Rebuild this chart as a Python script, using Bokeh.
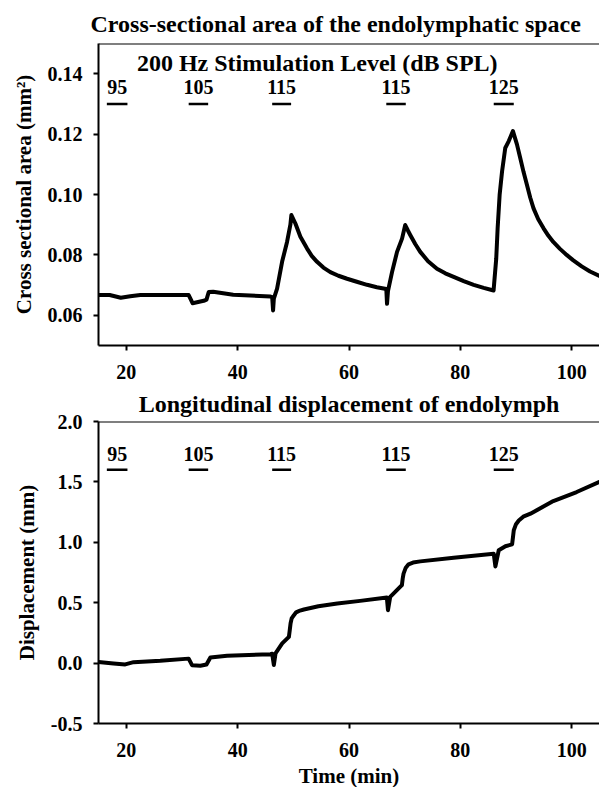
from bokeh.plotting import figure
from bokeh.layouts import column
from bokeh.models import FixedTicker, Span, Label, Range1d, ColumnDataSource
from bokeh.core.properties import value
from bokeh.embed import file_html
from bokeh.resources import INLINE

# ---------------- data ----------------
x_ticks = [20, 40, 60, 80, 100]
area_ticks = [0.06, 0.08, 0.10, 0.12, 0.14]
area_tick_labels = ["0.06", "0.08", "0.10", "0.12", "0.14"]
disp_ticks = [-0.5, 0.0, 0.5, 1.0, 1.5, 2.0]
disp_tick_labels = ["-0.5", "0.0", "0.5", "1.0", "1.5", "2.0"]

stim_levels = ["95", "105", "115", "115", "125"]
stim_start = [16.5, 31.2, 46.2, 66.7, 86.0]
stim_end = [20.2, 34.7, 49.6, 70.2, 89.6]

t_area = [15.0, 17.0, 19.0, 20.7, 22.5, 31.2, 31.6, 31.9, 33.9, 34.4, 34.8, 35.6, 39.2,
          45.9, 46.2, 46.36, 46.5, 47.08, 47.98, 48.87, 49.47, 49.65, 50.37, 51.27, 52.47,
          53.3, 54.26, 55.4, 56.65, 58.1, 59.65, 61.4, 63.24, 65.0, 66.7, 66.83, 67.0,
          67.73, 68.63, 69.53, 70.1, 70.6, 71.0, 71.9, 72.8, 74.2, 75.8, 77.3, 78.8, 80.6,
          82.4, 84.2, 85.97, 86.45, 86.7, 87.06, 87.5, 88.07, 88.7, 89.45, 90.17, 90.76,
          91.35, 91.96, 92.55, 93.15, 94.0, 94.95, 95.8, 96.7, 97.9, 99.1, 100.3, 101.8,
          103.3, 105.0]
v_area = [0.0667, 0.0667, 0.0658, 0.0663, 0.0667, 0.0667, 0.0652, 0.0640, 0.0648, 0.0652,
          0.0677, 0.0678, 0.0668, 0.0662, 0.0660, 0.0616, 0.0655, 0.0688, 0.0777, 0.0843,
          0.0900, 0.0932, 0.0904, 0.0860, 0.0821, 0.0797, 0.0777, 0.0758, 0.0743, 0.0731,
          0.0721, 0.0711, 0.0701, 0.0693, 0.0687, 0.0638, 0.0680, 0.0743, 0.0810, 0.0854,
          0.0899, 0.0880, 0.0866, 0.0836, 0.0810, 0.0779, 0.0754, 0.0739, 0.0727, 0.0713,
          0.0701, 0.0691, 0.0682, 0.0788, 0.0888, 0.0999, 0.1077, 0.1154, 0.1177, 0.1210,
          0.1166, 0.1121, 0.1075, 0.1032, 0.0990, 0.0954, 0.0918, 0.0888, 0.0864, 0.0843,
          0.0820, 0.0800, 0.0782, 0.0762, 0.0745, 0.0730]

t_disp = [15.0, 17.7, 19.8, 21.3, 26.1, 31.2, 31.8, 33.3, 34.4, 35.1, 38.1, 45.9, 46.2,
          46.5, 46.8, 48.0, 49.2, 49.35, 49.5, 49.7, 50.1, 50.5, 51.2, 51.9, 54.5, 57.9,
          62.0, 66.8, 67.0, 67.4, 69.5, 69.65, 69.8, 70.2, 70.7, 71.5, 72.8, 78.8, 86.0,
          86.3, 86.9, 88.1, 89.3, 89.45, 89.6, 90.0, 90.5, 91.3, 92.6, 96.7, 100.9, 105.0]
d_disp = [0.010, -0.003, -0.011, 0.008, 0.019, 0.037, -0.017, -0.022, -0.012, 0.047,
          0.060, 0.074, 0.078, -0.015, 0.080, 0.163, 0.217, 0.270, 0.328, 0.370, 0.397,
          0.420, 0.435, 0.444, 0.470, 0.493, 0.515, 0.543, 0.438, 0.548, 0.645, 0.700,
          0.741, 0.790, 0.818, 0.832, 0.842, 0.873, 0.906, 0.800, 0.934, 0.967, 0.983,
          1.040, 1.100, 1.150, 1.180, 1.212, 1.237, 1.341, 1.416, 1.500]

FONT = "Liberation Serif"


def style(p, yticks, ylabels, ylabel):
    p.outline_line_color = None
    p.xgrid.visible = False
    p.ygrid.visible = False
    p.xaxis.ticker = FixedTicker(ticks=x_ticks)
    p.yaxis.ticker = FixedTicker(ticks=yticks)
    p.yaxis.major_label_overrides = {t: l for t, l in zip(yticks, ylabels)}
    for ax in (p.xaxis, p.yaxis):
        ax.axis_line_width = 2
        ax.axis_line_color = "black"
        ax.major_tick_line_width = 2
        ax.major_tick_line_color = "black"
        ax.major_tick_out = 5
        ax.major_tick_in = 0
        ax.minor_tick_line_color = None
        ax.major_label_text_font = FONT
        ax.major_label_text_font_size = "20px"
        ax.major_label_text_font_style = "bold"
        ax.major_label_text_color = "black"
        ax.axis_label_text_font = FONT
        ax.axis_label_text_font_size = "21px"
        ax.axis_label_text_font_style = "bold"
        ax.axis_label_text_color = "black"
    p.xaxis.major_label_standoff = 14
    p.yaxis.major_label_standoff = 11
    p.yaxis.axis_label = ylabel
    p.yaxis.axis_label_standoff = 9
    p.title.text_font = FONT
    p.title.text_font_size = "24px"
    p.title.text_font_style = "bold"
    p.title.align = "center"
    p.title.text_color = "black"


def stim_marks(p, text_y, bar_y):
    mids = [(a + b) / 2 for a, b in zip(stim_start, stim_end)]
    src = ColumnDataSource(dict(x=mids, y=[text_y] * len(mids), t=stim_levels))
    p.text(x="x", y="y", text="t", source=src, text_font=value(FONT),
           text_font_size="20px", text_font_style="bold", text_align="center",
           text_baseline="middle", text_color="black")
    p.segment(x0=stim_start, x1=stim_end, y0=[bar_y] * len(stim_start),
              y1=[bar_y] * len(stim_start), line_width=2.5, line_color="black")


# ---------------- top figure ----------------
p1 = figure(frame_width=501, frame_height=302, output_backend="svg", toolbar_location=None,
            x_range=Range1d(15, 105), y_range=Range1d(0.05, 0.15),
            min_border_left=98, min_border_right=0, min_border_top=43, min_border_bottom=39,
            title="Cross-sectional area of the endolymphatic space")
style(p1, area_ticks, area_tick_labels, "Cross sectional area (mm²)")
p1.title.standoff = 13
p1.title.align = "left"
p1.title.offset = -8
p1.add_layout(Span(location=0.15, dimension="width", line_color="black", line_width=2))
p1.line(t_area, v_area, line_width=4, line_color="black", line_join="round", line_cap="round")
stim_marks(p1, 0.1355, 0.130)
p1.add_layout(Label(x=54.3, y=0.1437, text="200 Hz Stimulation Level (dB SPL)",
                    text_font=FONT, text_font_size="24px", text_font_style="bold",
                    text_align="center", text_baseline="middle", text_color="black"))

# ---------------- bottom figure ----------------
p2 = figure(frame_width=501, frame_height=302, output_backend="svg", toolbar_location=None,
            x_range=Range1d(15, 105), y_range=Range1d(-0.5, 2.0),
            min_border_left=98, min_border_right=0, min_border_top=37, min_border_bottom=62,
            title="Longitudinal displacement of endolymph")
style(p2, disp_ticks, disp_tick_labels, "Displacement (mm)")
p2.title.standoff = 9
p2.xaxis.axis_label = "Time (min)"
p2.xaxis.axis_label_standoff = 4
p2.add_layout(Span(location=2.0, dimension="width", line_color="black", line_width=2))
p2.line(t_disp, d_disp, line_width=4, line_color="black", line_join="round", line_cap="round")
stim_marks(p2, 1.735, 1.60)

layout = column(p1, p2, spacing=0)
open("out.html", "w").write(file_html(layout, INLINE))
